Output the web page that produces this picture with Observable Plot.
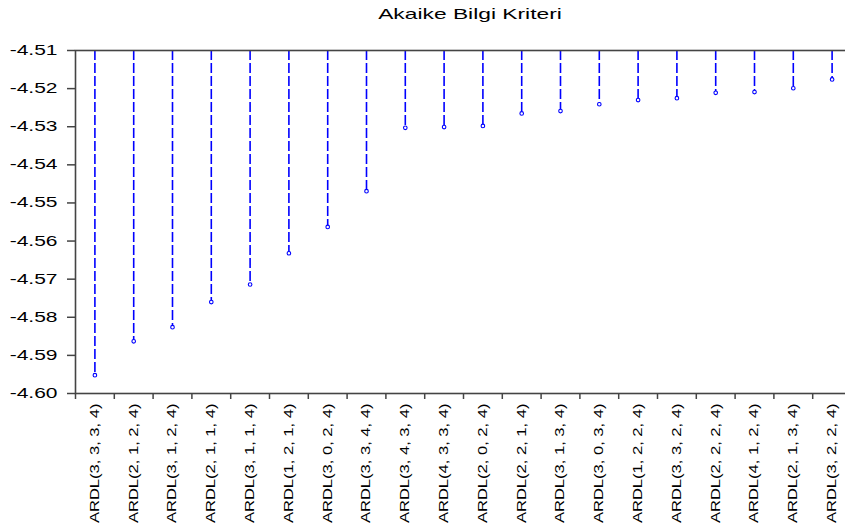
<!DOCTYPE html>
<html>
<head>
<meta charset="utf-8">
<script src="https://cdn.jsdelivr.net/npm/d3@7"></script>
<script src="https://cdn.jsdelivr.net/npm/@observablehq/plot@0.6"></script>
<style>
  html, body { margin: 0; padding: 0; background: white; overflow: hidden; width: 845px; height: 529px; }
  #title { position: absolute; left: 470px; top: 5px; font-family: "Liberation Sans", Arial, sans-serif; font-size: 15px; line-height: 18px; color: #000; white-space: nowrap; transform: translateX(-50%) scaleX(1.52); }
  #chart { position: absolute; left: 0; top: 30px; width: 900px; }
  #chart svg { max-width: none !important; }
</style>
</head>
<body>
<div id="title">Akaike Bilgi Kriteri</div>
<div id="chart"></div>
<script>
const models = [
  "ARDL(3, 3, 3, 4)", "ARDL(2, 1, 2, 4)", "ARDL(3, 1, 2, 4)", "ARDL(2, 1, 1, 4)",
  "ARDL(3, 1, 1, 4)", "ARDL(1, 2, 1, 4)", "ARDL(3, 0, 2, 4)", "ARDL(3, 3, 4, 4)",
  "ARDL(3, 4, 3, 4)", "ARDL(4, 3, 3, 4)", "ARDL(2, 0, 2, 4)", "ARDL(2, 2, 1, 4)",
  "ARDL(3, 1, 3, 4)", "ARDL(3, 0, 3, 4)", "ARDL(1, 2, 2, 4)", "ARDL(3, 3, 2, 4)",
  "ARDL(2, 2, 2, 4)", "ARDL(4, 1, 2, 4)", "ARDL(2, 1, 3, 4)", "ARDL(3, 2, 2, 4)"
];
const aic = [
  -4.5952, -4.5863, -4.5826, -4.5760, -4.5714, -4.5632, -4.5563, -4.5469,
  -4.5303, -4.5301, -4.5298, -4.5265, -4.5259, -4.5241, -4.5230, -4.5225,
  -4.5211, -4.5209, -4.5199, -4.5176
];
const yTicks = [-4.60, -4.59, -4.58, -4.57, -4.56, -4.55, -4.54, -4.53, -4.52, -4.51];

const yMin = d3.min(yTicks), yMax = d3.max(yTicks);
const data = models.map((m, i) => ({model: m, aic: aic[i]}));

const W = 860, ML = 75, MR = 9;
const step = (W - ML - MR) / models.length;

const plot = Plot.plot({
  width: W,
  height: 499,
  marginLeft: ML,
  marginRight: MR,
  marginTop: 20,
  marginBottom: 136,
  style: {fontFamily: "'Liberation Sans', Arial, sans-serif", background: "white", color: "#000", overflow: "visible", maxWidth: "none"},
  x: {type: "point", domain: models, padding: 0.5, round: false, axis: null, label: null},
  y: {domain: [yMin, yMax], axis: null, label: null},
  marks: [
    Plot.ruleX(data, {x: "model", y1: d => yMax, y2: "aic", stroke: "#0000ff", strokeWidth: 1.6, strokeDasharray: "10,3"}),
    Plot.dot(data, {x: "model", y: "aic", r: 1.8, stroke: "#0000ff", fill: "white", strokeWidth: 1.1}),
    Plot.frame({stroke: "#444", strokeWidth: 1.6}),
    Plot.axisY({ticks: yTicks, tickFormat: d => d.toFixed(2), tickSize: 8, tickPadding: 10, fontSize: 14, stroke: "#444", strokeWidth: 1.5, fill: "#000", label: null}),
    Plot.axisX({tickSize: 6, tickFormat: () => "", dx: -step / 2, stroke: "#444", strokeWidth: 1.5, label: null}),
    Plot.axisX({tickSize: 0, tickRotate: -90, tickPadding: 10, fontSize: 12, fill: "#000", label: null})
  ]
});

document.getElementById("chart").appendChild(plot);

// stretch text horizontally (along its own direction) as in the reference
function stretch(sel, sx) {
  plot.querySelectorAll(sel).forEach(el => {
    let t = el.getAttribute("transform") || "";
    const x = el.getAttribute("x");
    if (!t && x != null) {
      t = `translate(${x},0)`;
      el.setAttribute("x", 0);
    }
    el.setAttribute("transform", (t + ` scale(${sx},1)`).trim());
  });
}
stretch('g[aria-label="y-axis tick label"] text', 1.5);
stretch('g[aria-label="x-axis tick label"] text', 1.38);
</script>
</body>
</html>
